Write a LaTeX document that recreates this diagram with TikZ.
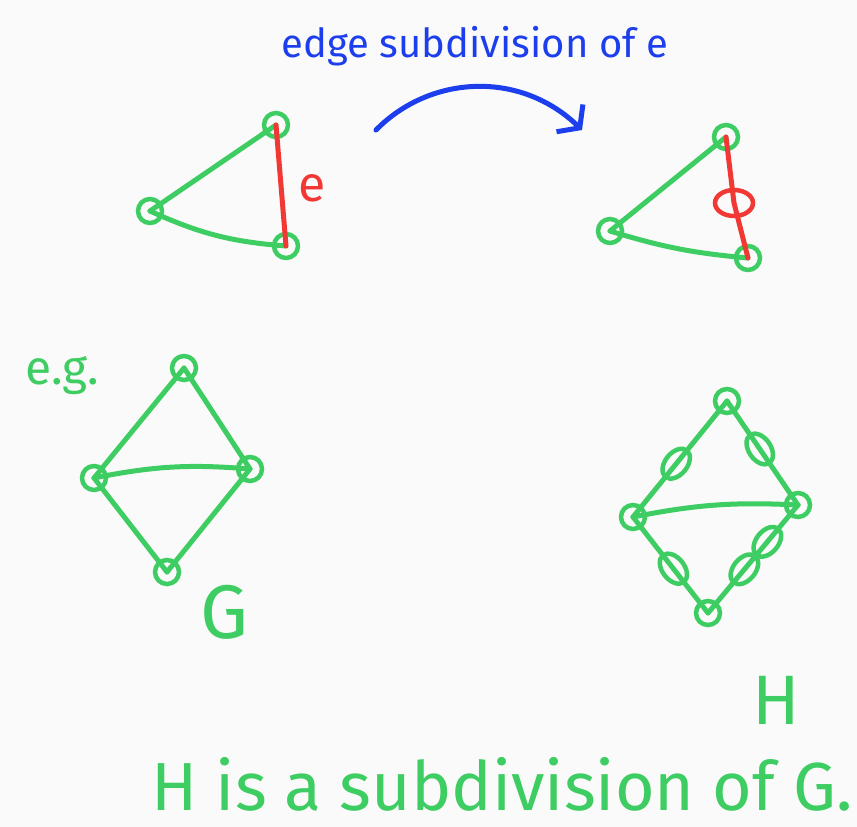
\documentclass[tikz,border=0pt]{standalone}
\usepackage{fontspec}
\setmainfont{Fira Sans}
\usetikzlibrary{arrows.meta,shapes.geometric}
\definecolor{penGreen}{RGB}{62,205,98}
\definecolor{penRed}{RGB}{242,56,52}
\definecolor{penBlue}{RGB}{28,62,236}
\tikzset{
  pen/.style={line width=5pt,line cap=round,line join=round},
  vtx/.style={circle,draw=penGreen,line width=4.5pt,minimum size=24pt,inner sep=0pt},
  subvtx/.style={ellipse,draw=penGreen,line width=4.5pt,minimum width=34pt,minimum height=22pt,inner sep=0pt},
}

\begin{document}
\begin{tikzpicture}[x=1pt,y=-1pt]
\useasboundingbox[fill=white!98!black] (0,0) rectangle (857,827);

% Heading and arrow (blue)
\node[penBlue,font=\fontsize{40}{44}\selectfont] (title) at (475,46) {edge subdivision of e};
\coordinate (arrS) at (376,130);
\coordinate (arrE) at (582,130);
\draw[pen,penBlue,-{Straight Barb[length=14pt,width=38pt,line width=5pt]}] (arrS) .. controls (430,75) and (520,70) .. (arrE);

% Triangle before subdivision
\node[vtx] (a1) at (276,125) {};
\node[vtx] (b1) at (150,211) {};
\node[vtx] (c1) at (286,246) {};
\draw[pen,penGreen] (a1.center) -- (b1.center);
\draw[pen,penGreen] (b1.center) to[bend right=10] (c1.center);
\draw[pen,penRed] (a1.center) -- (c1.center);
\node[penRed,font=\fontsize{50}{54}\selectfont] (elab) at (312,188) {e};

% Triangle after subdivision
\node[vtx] (a2) at (726,137) {};
\node[vtx] (b2) at (610,231) {};
\node[vtx] (c2) at (748,258) {};
\node[ellipse,draw=penRed,line width=4.5pt,minimum width=38pt,minimum height=26pt,inner sep=0pt] (m2) at (734,203) {};
\draw[pen,penGreen] (a2.center) -- (b2.center);
\draw[pen,penGreen] (b2.center) to[bend right=6] (c2.center);
\draw[pen,penRed] (a2.center) -- (m2.center) -- (c2.center);

% Graph G
\node[penGreen,font=\fontsize{48}{52}\selectfont] (eg) at (62,376) {e.g.};
\node[vtx] (gt) at (184,368) {};
\node[vtx] (gl) at (94,478) {};
\node[vtx] (gr) at (250,469) {};
\node[vtx] (gb) at (167,572) {};
\foreach \u/\v in {gt/gl, gt/gr, gl/gb, gr/gb} {
  \draw[pen,penGreen] (\u.center) -- (\v.center);
}
\draw[pen,penGreen] (gl.center) to[bend left=8] (gr.center);
\node[penGreen,font=\fontsize{76}{80}\selectfont] (glab) at (224,612) {G};

% Graph H, every edge but one subdivided
\node[vtx] (ht) at (727,401) {};
\node[vtx] (hl) at (633,517) {};
\node[vtx] (hr) at (798,505) {};
\node[vtx] (hb) at (708,613) {};
\path (ht) -- node[subvtx,sloped,pos=0.55] (s1) {} (hl);
\path (ht) -- node[subvtx,sloped,pos=0.45] (s2) {} (hr);
\path (hr) -- node[subvtx,sloped,pos=0.3] (s3) {} (hb);
\path (hr) -- node[subvtx,sloped,pos=0.62] (s4) {} (hb);
\path (hl) -- node[subvtx,sloped,pos=0.55] (s5) {} (hb);
\foreach \u/\v in {ht/hl, ht/hr, hr/hb, hl/hb} {
  \draw[pen,penGreen] (\u.center) -- (\v.center);
}
\draw[pen,penGreen] (hl.center) to[bend left=7] (hr.center);
\node[penGreen,font=\fontsize{70}{74}\selectfont] (hlab) at (776,700) {H};

% Statement
\node[penGreen,font=\fontsize{68}{72}\selectfont] (claim) at (502,784) {H is a subdivision of G.};

\end{tikzpicture}
\end{document}
